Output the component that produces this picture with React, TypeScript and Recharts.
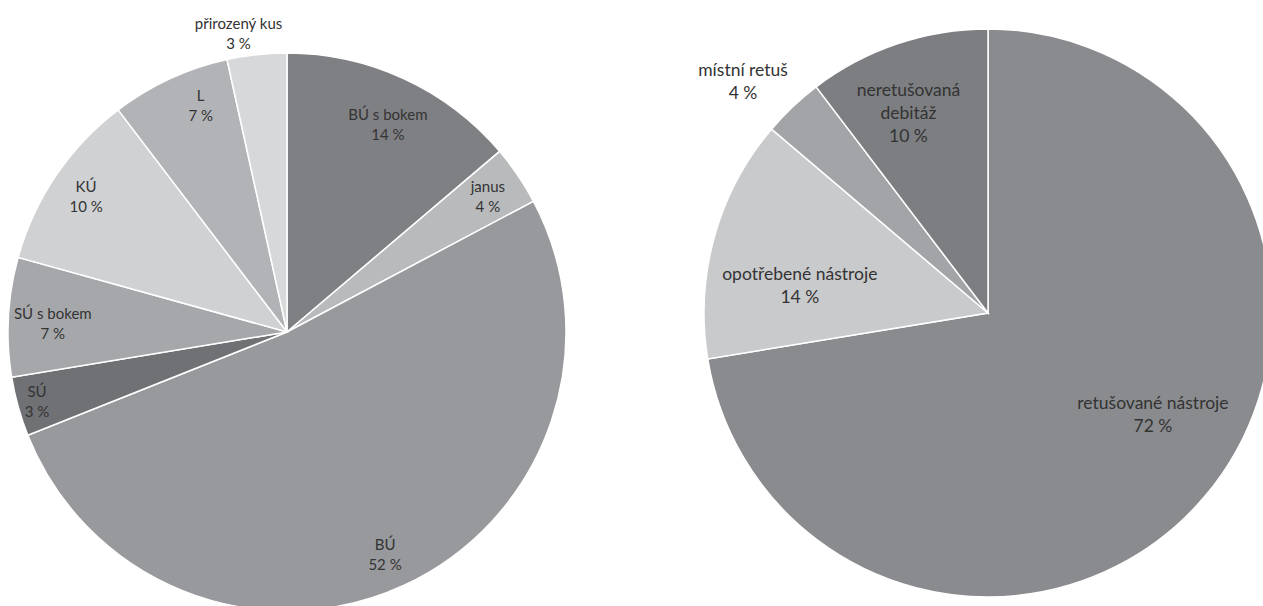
import { PieChart, Pie, Cell } from 'recharts';

// left pie: artefact types (counts, clockwise from 12 o'clock)
const LEFT_NAMES = ['BÚ s bokem', 'janus', 'BÚ', 'SÚ', 'SÚ s bokem', 'KÚ', 'L', 'přirozený kus'];
const LEFT_COUNTS = [4, 1, 15, 1, 2, 3, 2, 1];
const LEFT_PCT = [14, 4, 52, 3, 7, 10, 7, 3];

// right pie: retouch categories
const RIGHT_NAMES = ['retušované nástroje', 'opotřebené nástroje', 'místní retuš', 'neretušovaná debitáž'];
const RIGHT_COUNTS = [21, 4, 1, 3];
const RIGHT_PCT = [72, 14, 4, 10];

const LEFT_COLORS = ['#7f8083', '#b9babc', '#98999c', '#707174', '#a6a7aa', '#d0d1d3', '#b2b3b6', '#d7d8da'];
const RIGHT_COLORS = ['#8a8b8e', '#c9cacc', '#a3a4a7', '#7d7e81'];

// label placement: radius as fraction of outer radius, angle shift (deg, clockwise)
const LEFT_LABEL = [
  { r: 0.83, shift: 1 }, { r: 0.87, shift: 0 }, { r: 0.87, shift: 1 }, { r: 0.93, shift: 0 },
  { r: 0.84, shift: -1 }, { r: 0.87, shift: 0 }, { r: 0.87, shift: 4 }, { r: 1.085, shift: -3 },
];
const RIGHT_LABEL = [
  { r: 0.68, shift: -9 }, { r: 0.67, shift: -7 }, { r: 1.19, shift: -3 }, { r: 0.76, shift: -3 },
];

const RAD = Math.PI / 180;
const FONT = 'Lato, "Open Sans", sans-serif';

function makeLabel(place: { r: number; shift: number }[], fontSize: number, lineH: number) {
  return (props: any) => {
    const { cx, cy, midAngle, outerRadius, index, payload } = props;
    const p = place[index];
    const ang = midAngle - p.shift;
    const rr = outerRadius * p.r;
    const x = cx + rr * Math.cos(-ang * RAD);
    const y = cy + rr * Math.sin(-ang * RAD);
    const lines: string[] = [...payload.lines, `${payload.pct} %`];
    const top = y - ((lines.length - 1) * lineH) / 2;
    return (
      <text x={x} y={top} textAnchor="middle" dominantBaseline="central" fill="#333333" fontSize={fontSize} fontFamily={FONT}>
        {lines.map((l, i) => (
          <tspan key={i} x={x} y={top + i * lineH}>{l}</tspan>
        ))}
      </text>
    );
  };
}

const leftData = LEFT_NAMES.map((name, i) => ({ name, value: LEFT_COUNTS[i], pct: LEFT_PCT[i], lines: [name] }));
const rightData = RIGHT_NAMES.map((name, i) => ({
  name,
  value: RIGHT_COUNTS[i],
  pct: RIGHT_PCT[i],
  lines: name === 'neretušovaná debitáž' ? ['neretušovaná', 'debitáž'] : [name],
}));

export default function App() {
  return (
    <div style={{ position: 'absolute', left: 0, top: 0, background: '#fff' }}>
      <PieChart width={1263} height={606} margin={{ top: 0, right: 0, bottom: 0, left: 0 }}>
        <Pie
          data={leftData}
          dataKey="value"
          cx={287}
          cy={332}
          outerRadius={279}
          startAngle={90}
          endAngle={-270}
          stroke="#ffffff"
          strokeWidth={1.5}
          labelLine={false}
          label={makeLabel(LEFT_LABEL, 15, 20)}
          isAnimationActive={false}
        >
          {leftData.map((d, i) => (
            <Cell key={`l-${i}`} fill={LEFT_COLORS[i]} />
          ))}
        </Pie>
        <Pie
          data={rightData}
          dataKey="value"
          cx={988}
          cy={313}
          outerRadius={284}
          startAngle={90}
          endAngle={-270}
          stroke="#ffffff"
          strokeWidth={1.5}
          labelLine={false}
          label={makeLabel(RIGHT_LABEL, 17.5, 23)}
          isAnimationActive={false}
        >
          {rightData.map((d, i) => (
            <Cell key={`r-${i}`} fill={RIGHT_COLORS[i]} />
          ))}
        </Pie>
      </PieChart>
    </div>
  );
}
